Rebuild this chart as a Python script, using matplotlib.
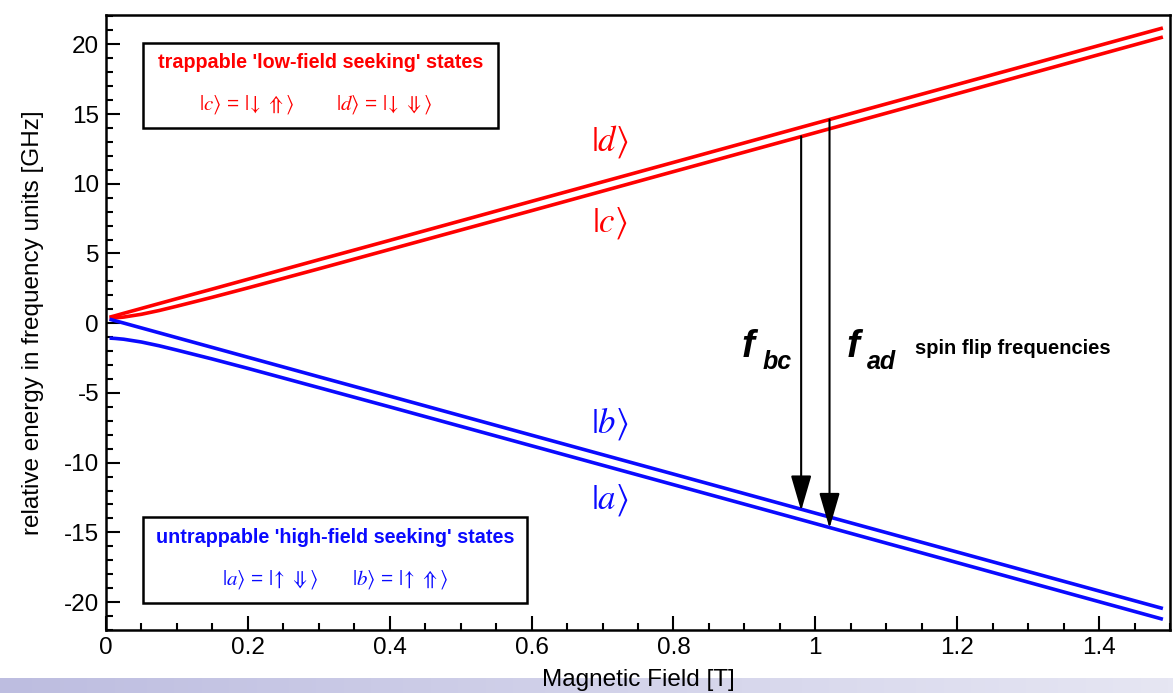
import numpy as np
import matplotlib
matplotlib.use('Agg')
import matplotlib.pyplot as plt
from matplotlib.patches import Rectangle
from matplotlib.ticker import MultipleLocator

plt.rcParams['font.family'] = ['Liberation Sans', 'DejaVu Sans']
plt.rcParams['mathtext.fontset'] = 'stix'
plt.rcParams['axes.unicode_minus'] = False

# magnetic field [T] and state energies [GHz]
field = [0.005, 0.0125, 0.025, 0.05, 0.075, 0.1, 0.15, 0.2, 0.3, 0.4, 0.6, 0.8, 1.0, 1.2, 1.49]
state_d = [0.43, 0.53, 0.71, 1.06, 1.41, 1.76, 2.45, 3.15, 4.55, 5.94, 8.74, 11.53, 14.33, 17.12, 21.17]
state_c = [0.36, 0.38, 0.44, 0.64, 0.91, 1.22, 1.86, 2.53, 3.90, 5.29, 8.07, 10.87, 13.66, 16.46, 20.52]
state_b = [0.29, 0.18, 0.01, -0.34, -0.69, -1.04, -1.74, -2.44, -3.84, -5.23, -8.03, -10.82, -13.62, -16.41, -20.46]
state_a = [-1.07, -1.09, -1.15, -1.35, -1.62, -1.93, -2.57, -3.24, -4.62, -6.00, -8.79, -11.58, -14.37, -17.17, -21.23]

# spin flip transitions: (field, start, end)
flip_bc = (0.98, 13.4, -13.45)
flip_ad = (1.02, 14.6, -14.7)

red = '#ff0000'
blue = '#0a0aff'

fig = plt.figure(figsize=(11.73, 6.93), dpi=100)

# lavender band along the bottom edge
band = fig.add_axes([0, 0, 1, 15 / 693])
band.imshow(np.linspace(0, 1, 256)[None, :], aspect='auto',
            cmap=matplotlib.colors.LinearSegmentedColormap.from_list('lav', ['#bdbde0', '#e6e6f3']))
band.axis('off')

ax = fig.add_axes([106 / 1173, 63 / 693, 1064 / 1173, 615 / 693])
ax.set_zorder(2)
ax.patch.set_alpha(0)

ax.plot(field, state_d, color=red, lw=2.6, solid_capstyle='butt')
ax.plot(field, state_c, color=red, lw=2.6, solid_capstyle='butt')
ax.plot(field, state_b, color=blue, lw=2.6, solid_capstyle='butt')
ax.plot(field, state_a, color=blue, lw=2.6, solid_capstyle='butt')

for x0, y0, y1 in [flip_bc, flip_ad]:
    ax.annotate('', xy=(x0, y1), xytext=(x0, y0),
                arrowprops=dict(arrowstyle='-|>,head_length=1.1,head_width=0.32', mutation_scale=20,
                                color='black', lw=1.5, shrinkA=0, shrinkB=0))

ax.set_xlim(0, 1.5)
ax.set_ylim(-22, 22.1)
ax.xaxis.set_minor_locator(MultipleLocator(0.05))
ax.yaxis.set_major_locator(MultipleLocator(5))
ax.yaxis.set_minor_locator(MultipleLocator(1))
ax.set_xticks([0, 0.2, 0.4, 0.6, 0.8, 1.0, 1.2, 1.4])
ax.set_xticklabels(['0', '0.2', '0.4', '0.6', '0.8', '1', '1.2', '1.4'])
ax.tick_params(which='both', direction='in', width=1.5, labelsize=17.5, top=False, right=False)
ax.tick_params(which='major', length=10, pad=5)
ax.tick_params(which='minor', length=5)
for s in ax.spines.values():
    s.set_linewidth(1.8)

ax.set_xlabel('Magnetic Field [T]', fontsize=17.5, labelpad=7)
ax.set_ylabel('relative energy in frequency units [GHz]', fontsize=17.5, labelpad=14)

# state labels on the lines
ax.text(0.71, 13.0, r'$|d\rangle$', color=red, fontsize=25, ha='center', va='center')
ax.text(0.71, 7.2, r'$|c\rangle$', color=red, fontsize=25, ha='center', va='center')
ax.text(0.71, -7.2, r'$|b\rangle$', color=blue, fontsize=25, ha='center', va='center')
ax.text(0.71, -12.7, r'$|a\rangle$', color=blue, fontsize=25, ha='center', va='center')

# spin flip labels
ax.text(0.905, -1.7, 'f', fontsize=28, fontweight='bold', style='italic', ha='center', va='center')
ax.text(0.925, -2.8, 'bc', fontsize=18, fontweight='bold', style='italic', ha='left', va='center')
ax.text(1.053, -1.7, 'f', fontsize=28, fontweight='bold', style='italic', ha='center', va='center')
ax.text(1.073, -2.8, 'ad', fontsize=18, fontweight='bold', style='italic', ha='left', va='center')
ax.text(1.279, -1.8, 'spin flip frequencies', fontsize=14.5, fontweight='bold', ha='center', va='center')

# boxes
ax.add_patch(Rectangle((0.052, 13.98), 0.5, 6.09, fill=False, lw=1.8, ec='black'))
ax.text(0.302, 18.7, "trappable 'low-field seeking' states", color=red, fontsize=14.2,
        fontweight='bold', ha='center', va='center')
ax.text(0.199, 15.7, r'$|c\rangle$ = $|\!\downarrow\,\Uparrow\rangle$', color=red, fontsize=15,
        ha='center', va='center')
ax.text(0.392, 15.7, r'$|d\rangle$ = $|\!\downarrow\,\Downarrow\rangle$', color=red, fontsize=15,
        ha='center', va='center')

ax.add_patch(Rectangle((0.052, -20.07), 0.542, 6.17, fill=False, lw=1.8, ec='black'))
ax.text(0.323, -15.4, "untrappable 'high-field seeking' states", color=blue, fontsize=14.2,
        fontweight='bold', ha='center', va='center')
ax.text(0.232, -18.4, r'$|a\rangle$ = $|\!\uparrow\,\Downarrow\rangle$', color=blue, fontsize=15,
        ha='center', va='center')
ax.text(0.415, -18.4, r'$|b\rangle$ = $|\!\uparrow\,\Uparrow\rangle$', color=blue, fontsize=15,
        ha='center', va='center')

fig.savefig('out.png', dpi=100)
